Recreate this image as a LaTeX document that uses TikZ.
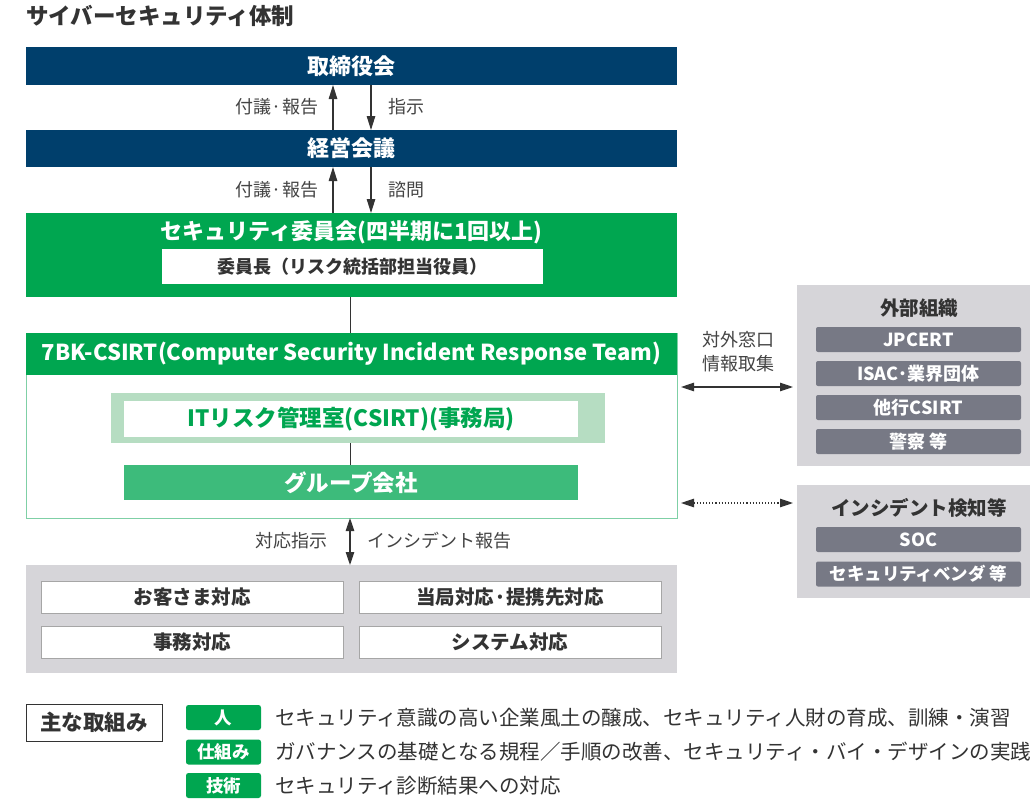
\documentclass[tikz,border=0pt]{standalone}
\usepackage{fontspec}
\setmainfont{Noto Sans CJK JP}
\usetikzlibrary{arrows.meta}
\definecolor{navy}{HTML}{003F6C}
\definecolor{sgreen}{HTML}{00A650}
\definecolor{mgreen}{HTML}{3DBB7B}
\definecolor{lgreen}{HTML}{B6DDC2}
\definecolor{bgreen}{HTML}{7FD0A6}
\definecolor{lgray}{HTML}{D6D5D9}
\definecolor{dgray}{HTML}{777985}
\definecolor{tdark}{HTML}{333333}
\definecolor{tlabel}{HTML}{444444}
\newcommand{\fs}[1]{\fontsize{#1}{#1}\selectfont}
\begin{document}
\begin{tikzpicture}[x=1pt,y=-1pt,
  every node/.style={inner sep=0pt, outer sep=0pt},
  navybox/.style={fill=navy, text=white, font=\bfseries\fs{22}, minimum width=651pt},
  whitebox/.style={fill=white, text=tdark, font=\bfseries\fs{18}},
  cellbox/.style={fill=white, draw=gray!70, line width=0.8pt, text=tdark, font=\bfseries\fs{19.5}, minimum width=302pt, minimum height=32pt},
  graypanel/.style={fill=lgray},
  subbox/.style={fill=dgray, rounded corners=2pt, text=white, font=\bfseries\fs{18}, minimum width=205pt, minimum height=25pt},
  paneltitle/.style={text=tdark, font=\bfseries\fs{19.5}},
  lbl/.style={text=tlabel, font=\fs{18}},
  arr/.style={-{Triangle[length=14pt,width=8.5pt]}, line width=1.1pt, draw=tdark},
  darr/.style={{Triangle[length=13pt,width=8.5pt]}-{Triangle[length=13pt,width=8.5pt]}, line width=1.1pt, draw=tdark},
  tag/.style={fill=sgreen, rounded corners=2.5pt, text=white, font=\bfseries\fs{17.5}, minimum width=75pt, minimum height=25pt},
  legtext/.style={anchor=west, text=tdark, font=\fs{20.5}}
]
\clip (0,0) rectangle (1030,800);
\fill[white] (0,0) rectangle (1030,800);

% title
\node[anchor=west, text=tdark, font=\bfseries\fs{22.5}] (title) at (26,16) {サイバーセキュリティ体制};

% board and management
\node[navybox, minimum height=38pt] (board) at (351.5,66) {取締役会};
\node[navybox, minimum height=37pt] (keiei) at (351.5,148.5) {経営会議};
\draw[arr] ([xshift=-18.5pt]keiei.north) -- ([xshift=-18.5pt]board.south);
\draw[arr] ([xshift=19.5pt]board.south) -- ([xshift=19.5pt]keiei.north);
\node[lbl, anchor=east] (l1) at (318,107) {付議·報告};
\node[lbl, anchor=west] (l2) at (388,107) {指示};

% security committee
\node[fill=sgreen, minimum width=651pt, minimum height=84pt] (sec) at (351.5,255) {};
\node[text=white, font=\bfseries\fs{22}] (sectitle) at (351.5,232) {セキュリティ委員会(四半期に1回以上)};
\node[whitebox, minimum width=381pt, minimum height=35pt] (chair) at (352.5,266.5) {委員長（リスク統括部担当役員）};
\draw[arr] ([xshift=-18.5pt]sec.north) -- ([xshift=-18.5pt]keiei.south);
\draw[arr] ([xshift=19.5pt]keiei.south) -- ([xshift=19.5pt]sec.north);
\node[lbl, anchor=east] (l3) at (318,190) {付議·報告};
\node[lbl, anchor=west] (l4) at (388,190) {諮問};

% CSIRT
\node[fill=white, draw=bgreen, line width=1pt, minimum width=651pt, minimum height=185pt] (csirt) at (351.5,425.5) {};
\node[fill=sgreen, text=white, font=\bfseries\fs{22}, minimum width=651pt, minimum height=42pt] (csirthead) at (351.5,354) {7BK-CSIRT(Computer Security Incident Response Team)};
\draw[tdark, line width=1pt] ([xshift=-1.5pt]sec.south) -- ([xshift=-1.5pt]csirthead.north);
\node[fill=lgreen, minimum width=494pt, minimum height=50pt] (itframe) at (358,418) {};
\node[fill=white, text=sgreen, font=\bfseries\fs{22.5}, minimum width=454pt, minimum height=36pt] (itrisk) at (351,419) {ITリスク管理室(CSIRT)(事務局)};
\node[fill=mgreen, text=white, font=\bfseries\fs{22.5}, minimum width=454pt, minimum height=35pt] (group) at (351,482.5) {グループ会社};
\draw[tdark, line width=1pt] ([xshift=-1pt]itframe.south -| itrisk.south) -- ([xshift=-1pt]group.north);

% bottom response panel
\node[graypanel, minimum width=651pt, minimum height=108pt] (resp) at (351.5,619) {};
\node[cellbox] (c1) at (192,597) {お客さま対応};
\node[cellbox] (c2) at (510,597) {当局対応·提携先対応};
\node[cellbox] (c3) at (192,642) {事務対応};
\node[cellbox] (c4) at (510,642) {システム対応};
\draw[darr] ([xshift=-1.5pt]csirt.south) -- ([xshift=-1.5pt]resp.north);
\node[lbl, anchor=east] (l5) at (327,541) {対応指示};
\node[lbl, anchor=west] (l6) at (367,541) {インシデント報告};

% external organisations
\node[graypanel, minimum width=243pt, minimum height=181pt] (ext) at (918.5,375.5) {};
\node[paneltitle] (exttitle) at (919,308) {外部組織};
\node[subbox] (e1) at (918.5,339.5) {JPCERT};
\node[subbox] (e2) at (918.5,373.5) {ISAC·業界団体};
\node[subbox] (e3) at (918.5,407.5) {他行CSIRT};
\node[subbox] (e4) at (918.5,441.5) {警察 等};

% incident detection
\node[graypanel, minimum width=243pt, minimum height=113pt] (inc) at (918.5,541.5) {};
\node[paneltitle] (inctitle) at (919,508) {インシデント検知等};
\node[subbox] (s1) at (918.5,539.5) {SOC};
\node[subbox, font=\bfseries\fs{17.5}] (s2) at (918.5,574) {セキュリティベンダ 等};

% horizontal connectors
\coordinate (h1) at (0,387);
\coordinate (h2) at (0,503);
\draw[darr, shorten <=4pt, shorten >=4pt] (csirt.east |- h1) -- (ext.west |- h1);
\draw[darr, dotted, shorten <=4pt, shorten >=4pt] (csirt.east |- h2) -- (inc.west |- h2);
\node[lbl, align=center, font=\fontsize{18}{24}\selectfont] (extlbl) at (738,352) {対外窓口\\情報取集};

% legend
\node[fill=white, draw=tdark, line width=0.8pt, text=tdark, font=\bfseries\fs{21.5}, minimum width=136pt, minimum height=37pt] (main) at (94,722.5) {主な取組み};
\node[tag] (t1) at (223.5,717.5) {人};
\node[tag] (t2) at (223.5,752) {仕組み};
\node[tag] (t3) at (223.5,785.5) {技術};
\node[legtext] (x1) at (275,717.5) {セキュリティ意識の高い企業風土の醸成、セキュリティ人財の育成、訓練・演習};
\node[legtext] (x2) at (275,752) {ガバナンスの基礎となる規程／手順の改善、セキュリティ・バイ・デザインの実践};
\node[legtext] (x3) at (275,785.5) {セキュリティ診断結果への対応};
\end{tikzpicture}
\end{document}
